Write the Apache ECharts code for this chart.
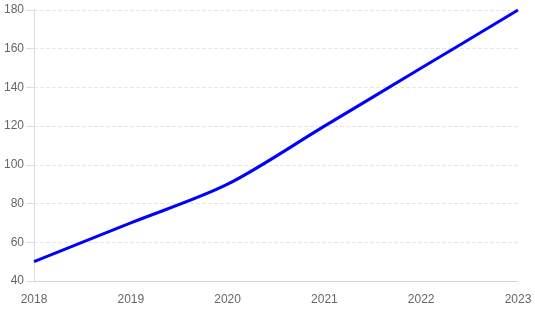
<!DOCTYPE html>
<html><head><meta charset="utf-8">
<script src="https://cdn.jsdelivr.net/npm/echarts@6/dist/echarts.min.js"></script>
<style>html,body{margin:0;padding:0;background:#fff}#c{width:535px;height:310px}</style>
</head><body><div id="c"></div>
<script>
const years = ['2018','2019','2020','2021','2022','2023'];
const values = [50, 70, 90, 120, 150, 180];
const chart = echarts.init(document.getElementById('c'));
chart.setOption({
  animation: false,
  grid: {left: 34, right: 17, top: 10, bottom: 29},
  xAxis: {
    type: 'category', data: years, boundaryGap: false,
    axisLine: {show: true, lineStyle: {color: '#d6d6d6'}},
    axisTick: {show: false},
    axisLabel: {color: '#666', fontSize: 12, fontFamily: 'Liberation Sans', margin: 13},
    splitLine: {show: false}
  },
  yAxis: {
    type: 'value', min: 40, max: 180, interval: 20,
    axisLine: {show: true, lineStyle: {color: '#dddddd'}},
    axisTick: {show: true, length: 8, lineStyle: {color: '#dddddd'}},
    axisLabel: {color: '#666', fontSize: 12, fontFamily: 'Liberation Sans', margin: 10},
    splitLine: {show: true, lineStyle: {color: '#e6e6e6', type: 'dashed'}}
  },
  series: [{
    type: 'line', data: values, smooth: 0.3, symbol: 'none',
    lineStyle: {color: '#0000ff', width: 3}
  }]
});
</script></body></html>
